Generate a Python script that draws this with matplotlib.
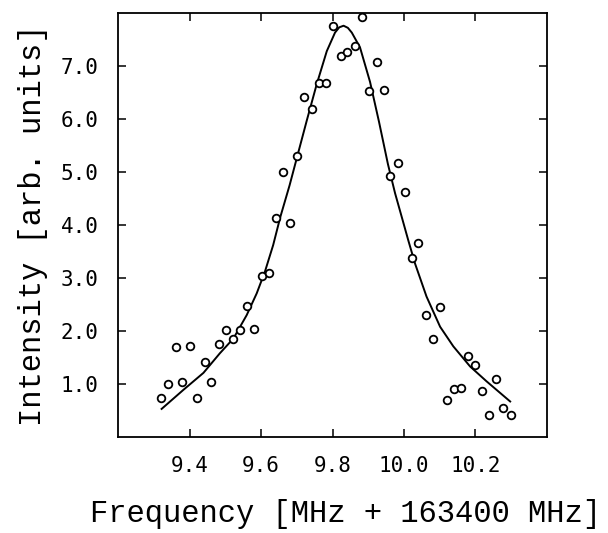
import matplotlib
matplotlib.use("Agg")
import matplotlib.pyplot as plt

# Measured data points (frequency offset in MHz, intensity)
freq = [9.319, 9.341, 9.361, 9.380, 9.401, 9.421, 9.443, 9.461, 9.483, 9.501,
        9.522, 9.541, 9.561, 9.581, 9.602, 9.622, 9.641, 9.661, 9.682, 9.702,
        9.721, 9.742, 9.762, 9.783, 9.802, 9.823, 9.841, 9.862, 9.883, 9.903,
        9.924, 9.943, 9.962, 9.982, 10.004, 10.021, 10.040, 10.061, 10.082,
        10.100, 10.121, 10.141, 10.160, 10.180, 10.200, 10.218, 10.238,
        10.258, 10.278, 10.298]
inten = [0.74, 1.00, 1.69, 1.03, 1.72, 0.74, 1.42, 1.04, 1.75, 2.02,
         1.85, 2.02, 2.48, 2.04, 3.04, 3.10, 4.14, 5.00, 4.04, 5.30,
         6.42, 6.18, 6.68, 6.68, 7.75, 7.18, 7.26, 7.38, 7.92, 6.53,
         7.07, 6.55, 4.92, 5.17, 4.63, 3.37, 3.66, 2.30, 1.85,
         2.45, 0.69, 0.91, 0.92, 1.52, 1.35, 0.87, 0.41,
         1.09, 0.55, 0.42]

# Fitted line profile
fit_freq = [9.322, 9.383, 9.439, 9.485, 9.523, 9.560, 9.588, 9.611, 9.634,
            9.654, 9.680, 9.702, 9.728, 9.756, 9.784, 9.807, 9.819, 9.831,
            9.843, 9.854, 9.877, 9.905, 9.930, 9.955, 9.975, 9.995, 10.012,
            10.031, 10.063, 10.101, 10.138, 10.185, 10.231, 10.297]
fit_int = [0.53, 0.89, 1.21, 1.58, 1.86, 2.30, 2.71, 3.12, 3.62,
           4.15, 4.75, 5.31, 5.97, 6.66, 7.28, 7.63, 7.73, 7.76,
           7.72, 7.63, 7.35, 6.70, 5.95, 5.15, 4.60, 4.12, 3.71,
           3.27, 2.65, 2.08, 1.71, 1.33, 1.05, 0.67]

xticks = [9.4, 9.6, 9.8, 10.0, 10.2]
xticklabels = ["9.4", "9.6", "9.8", "10.0", "10.2"]
yticks = [1.0, 2.0, 3.0, 4.0, 5.0, 6.0, 7.0]
yticklabels = ["1.0", "2.0", "3.0", "4.0", "5.0", "6.0", "7.0"]

fig = plt.figure(figsize=(6.08, 5.33), dpi=100)
ax = fig.add_axes([118/608, 1 - 437/533, (547-118)/608, (437-13)/533])

ax.plot(fit_freq, fit_int, color="black", lw=1.4)
ax.plot(freq, inten, linestyle="none", marker="o", markersize=5.5,
        markerfacecolor="white", markeredgecolor="black", markeredgewidth=1.3)

ax.set_xlim(9.2, 10.4)
ax.set_ylim(0.0, 8.0)
ax.set_xticks(xticks)
ax.set_xticklabels(xticklabels)
ax.set_yticks(yticks)
ax.set_yticklabels(yticklabels)

for s in ax.spines.values():
    s.set_linewidth(1.3)

ax.tick_params(axis="both", direction="in", length=6, width=1.1,
               top=True, right=True, labelsize=15, pad=14)
for lab in ax.get_xticklabels() + ax.get_yticklabels():
    lab.set_family("DejaVu Sans Mono")

ax.set_xlabel("Frequency [MHz + 163400 MHz]", family="Liberation Mono",
              fontsize=22, labelpad=16)
ax.xaxis.label.set_x(0.531)
ax.set_ylabel("Intensity [arb. units]", family="Liberation Mono",
              fontsize=22, labelpad=9)

fig.savefig("out.png", dpi=100)
